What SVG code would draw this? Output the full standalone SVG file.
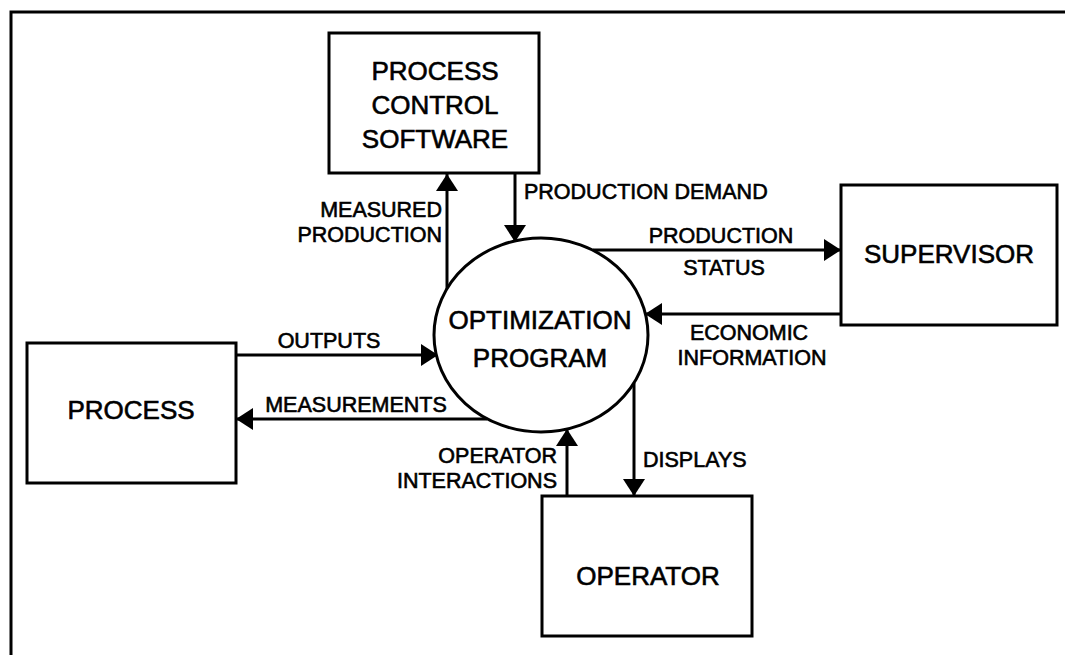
<svg xmlns="http://www.w3.org/2000/svg" width="1065" height="655" viewBox="0 0 1065 655">
<style>
.box{fill:#fff;stroke:#000;stroke-width:3}
.n{font-family:"Liberation Sans",Arial,sans-serif;font-size:26px;fill:#000;stroke:#000;stroke-width:0.6;text-anchor:middle}
.l{font-family:"Liberation Sans",Arial,sans-serif;font-size:21.5px;fill:#000;stroke:#000;stroke-width:0.6}
.c{stroke:#000;stroke-width:3;fill:none;marker-end:url(#ah)}
</style>
<defs>
<marker id="ah" viewBox="0 -11 17 22" refX="17" refY="0" markerWidth="17" markerHeight="22" markerUnits="userSpaceOnUse" orient="auto">
<path d="M0,-11 L17,0 L0,11 Z" fill="#000"/>
</marker>
</defs>
<rect width="1065" height="655" fill="#fff"/>
<path d="M11,655 L11,12 L1065,12" fill="none" stroke="#000" stroke-width="3"/>
<g id="connectors">
<line class="c" x1="447" y1="289" x2="447" y2="174"/>
<line class="c" x1="515" y1="173" x2="515" y2="242"/>
<line class="c" x1="593" y1="250" x2="841" y2="250"/>
<line class="c" x1="841" y1="314" x2="645" y2="314"/>
<line class="c" x1="236" y1="355" x2="438" y2="355"/>
<line class="c" x1="487" y1="419" x2="236" y2="419"/>
<line class="c" x1="567" y1="496" x2="567" y2="429"/>
<line class="c" x1="634" y1="383" x2="634" y2="496"/>
<text class="l" x="442" y="217" text-anchor="end">MEASURED</text>
<text class="l" x="442" y="242" text-anchor="end">PRODUCTION</text>
<text class="l" x="524" y="199">PRODUCTION DEMAND</text>
<text class="l" x="721" y="243" text-anchor="middle">PRODUCTION</text>
<text class="l" x="724" y="275" text-anchor="middle">STATUS</text>
<text class="l" x="749" y="340" text-anchor="middle">ECONOMIC</text>
<text class="l" x="752" y="365" text-anchor="middle">INFORMATION</text>
<text class="l" x="329" y="348" text-anchor="middle">OUTPUTS</text>
<text class="l" x="356" y="412" text-anchor="middle">MEASUREMENTS</text>
<text class="l" x="557" y="463" text-anchor="end">OPERATOR</text>
<text class="l" x="557" y="488" text-anchor="end">INTERACTIONS</text>
<text class="l" x="643" y="467">DISPLAYS</text>
</g>
<g id="pcs">
<rect class="box" x="329" y="33" width="210" height="140"/>
<text class="n" x="435" y="80">PROCESS</text>
<text class="n" x="435" y="114">CONTROL</text>
<text class="n" x="435" y="148">SOFTWARE</text>
</g>
<g id="supervisor">
<rect class="box" x="841" y="185" width="216" height="140"/>
<text class="n" x="949" y="263">SUPERVISOR</text>
</g>
<g id="process">
<rect class="box" x="27" y="343" width="209" height="140"/>
<text class="n" x="131" y="419">PROCESS</text>
</g>
<g id="operator">
<rect class="box" x="542" y="496" width="210" height="140"/>
<text class="n" x="648" y="585">OPERATOR</text>
</g>
<g id="optimization">
<ellipse cx="541" cy="335" rx="107" ry="97" fill="#fff" stroke="#000" stroke-width="3"/>
<text class="n" x="540" y="329">OPTIMIZATION</text>
<text class="n" x="540" y="367">PROGRAM</text>
</g>
</svg>
